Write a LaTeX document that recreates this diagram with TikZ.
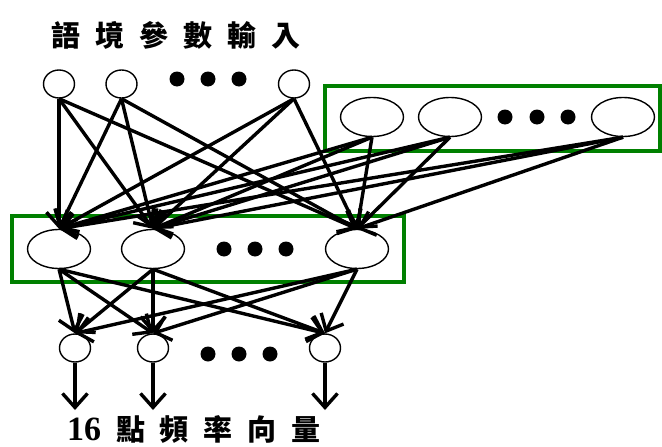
\documentclass[tikz,border=0pt]{standalone}
\usepackage{fontspec}
\newfontfamily\cjk{Noto Sans CJK TC}
\usepackage{tikz}
\usetikzlibrary{arrows.meta, shapes.geometric}
\definecolor{layerbox}{RGB}{0,128,0}
\newcommand{\cgap}{\hspace{15pt}}

\begin{document}
\begin{tikzpicture}[x=1pt, y=-1pt,
    unit/.style={draw, ellipse, line width=1.4pt, inner sep=0pt},
    small/.style={unit, minimum width=31pt, minimum height=28pt},
    big/.style={unit, minimum width=63pt, minimum height=39pt},
    link/.style={line width=3.4pt, -{Straight Barb[length=14pt, width=25pt]}},
    label/.style={font=\cjk\bfseries\fontsize{29}{32}\selectfont, inner sep=0pt},
    ]
\useasboundingbox (0,0) rectangle (662,447);

% context input layer
\node[label] (title) at (176,35)
    {語\cgap 境\cgap 參\cgap 數\cgap 輸\cgap 入};
\node[small] (c1) at (59,84) {};
\node[small] (c2) at (121.5,84) {};
\node[small] (c3) at (294,84) {};
\foreach \x in {177,208,239} \fill (\x,79) circle (7.5pt);

% recurrent layer (top right box)
\draw[layerbox, line width=4pt] (325,86) rectangle (660,151);
\node[big] (e1) at (372,117) {};
\node[big] (e2) at (450,117) {};
\node[big] (e3) at (623,117) {};
\foreach \x in {505,537,568} \fill (\x,117) circle (7.5pt);

% hidden layer
\draw[layerbox, line width=4pt] (12,216) rectangle (404,282);
\node[big] (m1) at (59,249) {};
\node[big] (m2) at (153,249) {};
\node[big] (m3) at (357,249) {};
\foreach \x in {224,255,286} \fill (\x,249) circle (7.5pt);

% output layer
\node[small] (b1) at (75,348) {};
\node[small] (b2) at (153,348) {};
\node[small] (b3) at (325,348) {};
\foreach \x in {208,239,270} \fill (\x,354) circle (7.5pt);
\coordinate (o1) at (75,410);
\coordinate (o2) at (153,410);
\coordinate (o3) at (325,410);
\node[label] (result) at (194,429)
    {{\fontspec{Liberation Serif}\bfseries\fontsize{34}{36}\selectfont 16}\cgap 點\cgap 頻\cgap 率\cgap 向\cgap 量};

% connections
\foreach \s in {c1,c2,c3,e1,e2,e3}
  \foreach \t in {m1,m2,m3}
    \draw[link] (\s.south) -- (\t.north);
\foreach \s in {m1,m2,m3}
  \foreach \t in {b1,b2,b3}
    \draw[link] (\s.south) -- (\t.north);
\foreach \i in {1,2,3}
  \draw[link] (b\i.south) -- (o\i);
\end{tikzpicture}
\end{document}
